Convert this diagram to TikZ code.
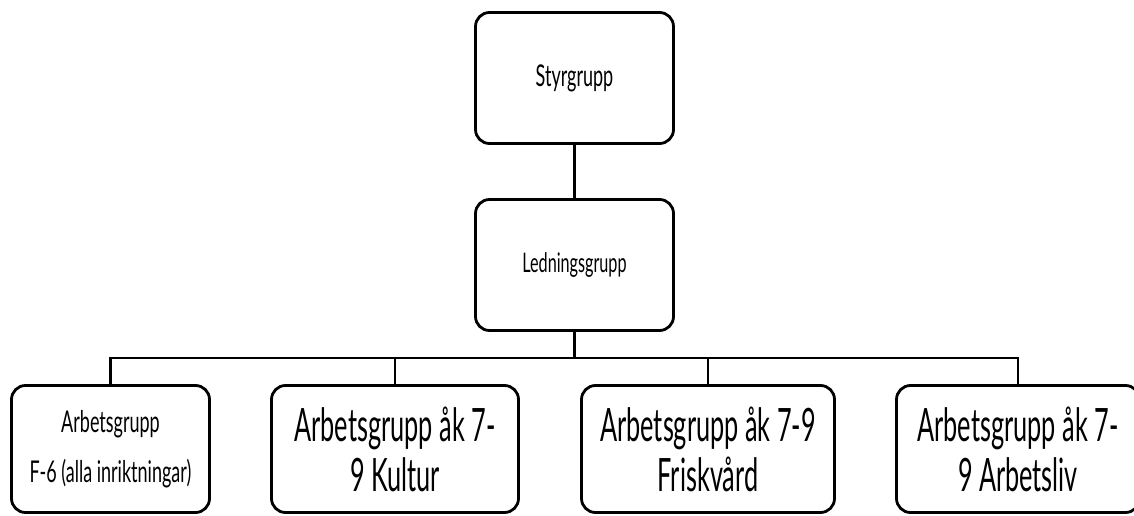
\documentclass[tikz,border=0pt]{standalone}
\usepackage{fontspec}
\setmainfont{Lato}[FakeStretch=0.6]
\newfontfamily\bigfont{Lato}[FakeStretch=0.55]
\begin{document}
\begin{tikzpicture}[x=1pt,y=-1pt,
  box/.style={draw=black, line width=2.8pt, rounded corners=14pt, inner sep=0pt, align=center},
  topbox/.style={box, minimum width=198pt, minimum height=131pt},
  lowbox/.style={box, minimum height=127pt},
  bigtext/.style={font=\bigfont\fontsize{46}{50}\selectfont},
  link/.style={draw=black, line width=2.8pt}
]
\clip (0,0) rectangle (1134,516);
\fill[white] (0,0) rectangle (1134,516);
\node[topbox, font=\fontsize{30}{34}\selectfont] (styr) at (574.5,78) {Styrgrupp};
\node[topbox, font=\fontsize{27}{30}\selectfont] (led) at (574.5,265) {Ledningsgrupp};
\node[lowbox, minimum width=198pt, font=\fontsize{30}{50}\selectfont] (b1) at (110.5,449) {Arbetsgrupp\\F-6 (alla inriktningar)};
\node[lowbox, minimum width=247pt, bigtext] (b2) at (395,449) {Arbetsgrupp åk 7-\\9 Kultur};
\node[lowbox, minimum width=253pt, bigtext] (b3) at (708,449) {Arbetsgrupp åk 7-9\\Friskvård};
\node[lowbox, minimum width=243pt, bigtext] (b4) at (1018,449) {Arbetsgrupp åk 7-\\9 Arbetsliv};
\coordinate (bus) at (0,358);
\draw[link] (styr.south) -- (led.north);
\draw[link] (led.south) -- (led.south |- bus);
\draw[link] (b1.north) -- (b1.north |- bus) -- (b4.north |- bus) -- (b4.north);
\draw[link] (b2.north) -- (b2.north |- bus);
\draw[link] (b3.north) -- (b3.north |- bus);
\end{tikzpicture}
\end{document}
